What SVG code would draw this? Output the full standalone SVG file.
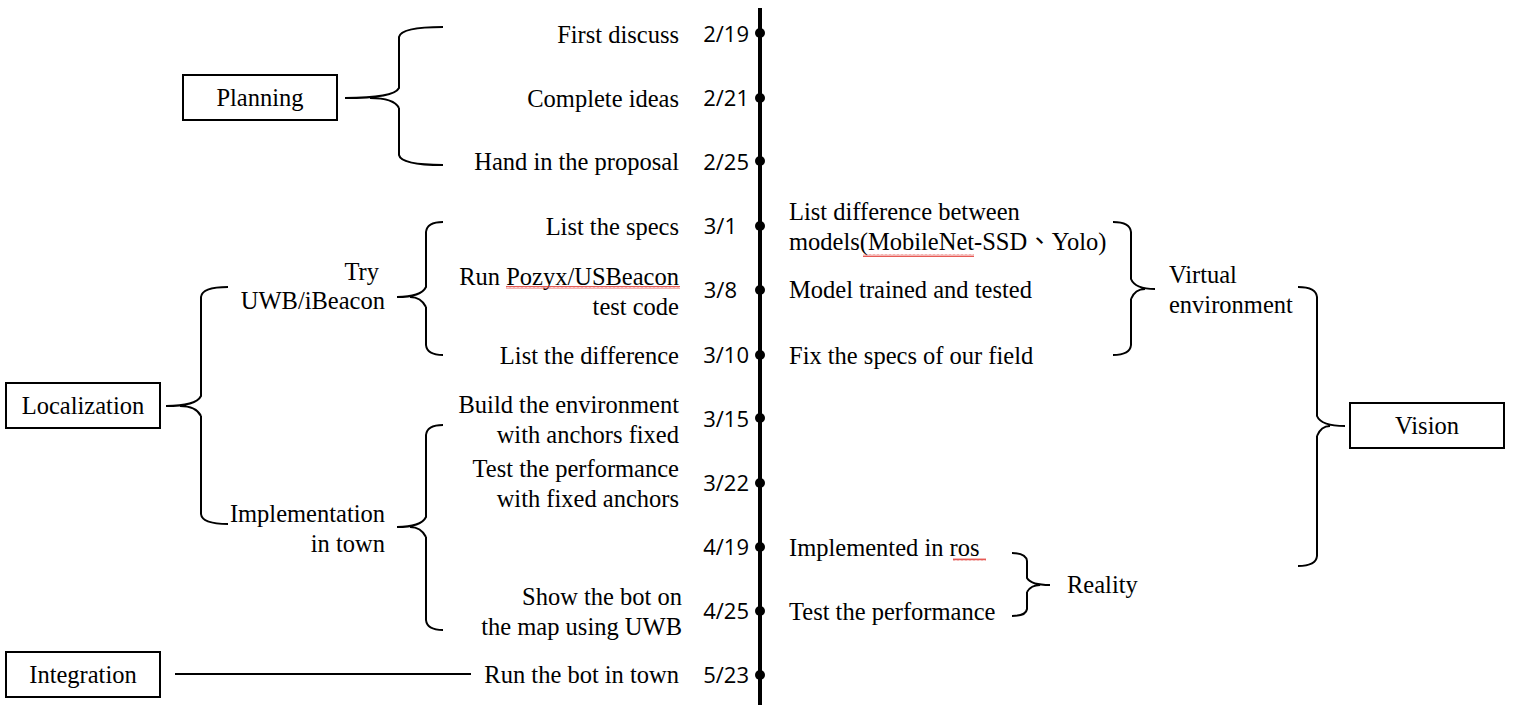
<svg xmlns="http://www.w3.org/2000/svg" width="1515" height="718" viewBox="0 0 1515 718">
<defs>
<pattern id="wavy" width="4" height="3" patternUnits="userSpaceOnUse">
<path d="M0 2.5 L1 0.5 L2 2.5 L3 0.5 L4 2.5" fill="none" stroke="#e0302a" stroke-width="0.8"/>
</pattern>
</defs>
<style>
.t{font-family:"Liberation Serif","Times New Roman","Noto Sans CJK TC",serif;font-size:24.5px;fill:#000}
.e{text-anchor:end}
.m{text-anchor:middle}
.d{font-family:"Open Sans","Liberation Sans",sans-serif;font-size:22px;fill:#000;text-anchor:end}
.box{fill:#fff;stroke:#000;stroke-width:2}
.br{fill:none;stroke:#000;stroke-width:2}
.dot{fill:#000}
</style>
<rect width="1515" height="718" fill="#fff"/>

<g id="connectors">
<line x1="760" y1="8" x2="760" y2="705" stroke="#000" stroke-width="4"/>
<!-- Planning brace -->
<path class="br" d="M345 98 Q394 98 399 88 L399 37 Q401 27 443 27 M399 108 Q394 98 370 98 M399 108 L399 155 Q401 165 443 165"/>
<!-- Try brace -->
<path class="br" d="M397 297 Q421 297 426 287 L426 232 Q427 222 443 222 M426 307 Q421 297 410 297 M426 307 L426 345 Q427 355 443 355"/>
<!-- Localization brace -->
<path class="br" d="M166 406 Q196 406 201 396 L201 297 Q202 287 228 287 M201 416 Q196 406 180 406 M201 416 L201 514 Q202 524 228 524"/>
<!-- Implementation brace -->
<path class="br" d="M397 527 Q421 527 426 517 L426 435 Q427 425 443 425 M426 537 Q421 527 410 527 M426 537 L426 620 Q427 630 443 630"/>
<!-- Integration line -->
<line x1="175" y1="674" x2="471" y2="674" stroke="#000" stroke-width="2"/>
<!-- Virtual environment brace -->
<path class="br" d="M1113 222 Q1130 222 1131 232 L1131 279 Q1135 289 1155 289 M1131 299 Q1135 289 1145 289 M1131 299 L1131 345 Q1130 355 1113 355"/>
<!-- Vision brace -->
<path class="br" d="M1298 287 Q1316 287 1317 297 L1317 416 Q1321 426 1345 426 M1317 436 Q1321 426 1330 426 M1317 436 L1317 556 Q1316 566 1298 566"/>
<!-- Reality brace -->
<path class="br" d="M1012 553 Q1026 553 1027 561 L1027 578 Q1031 585 1050 585 M1027 592 Q1031 585 1040 585 M1027 592 L1027 609 Q1026 616 1012 616"/>
</g>

<g id="timeline-dots">
<circle class="dot" cx="760" cy="33" r="5"/>
<circle class="dot" cx="760" cy="98" r="5"/>
<circle class="dot" cx="760" cy="161" r="5"/>
<circle class="dot" cx="760" cy="226" r="5"/>
<circle class="dot" cx="760" cy="290" r="5"/>
<circle class="dot" cx="760" cy="355" r="5"/>
<circle class="dot" cx="760" cy="418" r="5"/>
<circle class="dot" cx="760" cy="483" r="5"/>
<circle class="dot" cx="760" cy="547" r="5"/>
<circle class="dot" cx="760" cy="611" r="5"/>
<circle class="dot" cx="760" cy="675" r="5"/>
</g>

<g id="dates">
<text class="d" x="749" y="42">2/19</text>
<text class="d" x="749" y="106">2/21</text>
<text class="d" x="749" y="170">2/25</text>
<text class="d" x="737" y="234">3/1</text>
<text class="d" x="737" y="298">3/8</text>
<text class="d" x="749" y="363">3/10</text>
<text class="d" x="749" y="427">3/15</text>
<text class="d" x="749" y="491">3/22</text>
<text class="d" x="749" y="555">4/19</text>
<text class="d" x="749" y="619">4/25</text>
<text class="d" x="749" y="683">5/23</text>
</g>

<g id="node-planning">
<rect class="box" x="183" y="75" width="154" height="45"/>
<text class="t m" x="260" y="106">Planning</text>
</g>
<g id="node-localization">
<rect class="box" x="6" y="383" width="154" height="45"/>
<text class="t m" x="83" y="414">Localization</text>
</g>
<g id="node-integration">
<rect class="box" x="6" y="652" width="154" height="45"/>
<text class="t m" x="83" y="683">Integration</text>
</g>
<g id="node-vision">
<rect class="box" x="1350" y="403" width="154" height="45"/>
<text class="t m" x="1427" y="434">Vision</text>
</g>

<g id="node-try">
<text class="t e" x="379" y="280">Try</text>
<text class="t e" x="385" y="309">UWB/iBeacon</text>
</g>
<g id="node-implementation">
<text class="t e" x="385" y="522">Implementation</text>
<text class="t e" x="385" y="552">in town</text>
</g>
<g id="node-virtual">
<text class="t" x="1169" y="283">Virtual</text>
<text class="t" x="1169" y="313">environment</text>
</g>
<g id="node-reality">
<text class="t" x="1067" y="593">Reality</text>
</g>

<g id="tasks-left">
<text class="t e" x="679" y="43">First discuss</text>
<text class="t e" x="679" y="107">Complete ideas</text>
<text class="t e" x="679" y="170">Hand in the proposal</text>
<text class="t e" x="679" y="235">List the specs</text>
<text class="t e" x="679" y="285">Run Pozyx/USBeacon</text>
<text class="t e" x="679" y="315">test code</text>
<text class="t e" x="679" y="364">List the difference</text>
<text class="t e" x="679" y="413">Build the environment</text>
<text class="t e" x="679" y="443">with anchors fixed</text>
<text class="t e" x="679" y="477">Test the performance</text>
<text class="t e" x="679" y="507">with fixed anchors</text>
<text class="t e" x="682" y="605">Show the bot on</text>
<text class="t e" x="682" y="635">the map using UWB</text>
<text class="t e" x="679" y="683">Run the bot in town</text>
</g>

<g id="tasks-right">
<text class="t" x="789" y="220">List difference between</text>
<text class="t" x="789" y="250">models(MobileNet-SSD、Yolo)</text>
<text class="t" x="789" y="298">Model trained and tested</text>
<text class="t" x="789" y="364">Fix the specs of our field</text>
<text class="t" x="789" y="556">Implemented in ros</text>
<text class="t" x="789" y="620">Test the performance</text>
</g>

<g id="spellcheck">
<rect x="506" y="286" width="174" height="3" fill="url(#wavy)"/>
<rect x="863" y="254" width="111" height="3" fill="url(#wavy)"/>
<rect x="953" y="558" width="33" height="3" fill="url(#wavy)"/>
</g>
</svg>
